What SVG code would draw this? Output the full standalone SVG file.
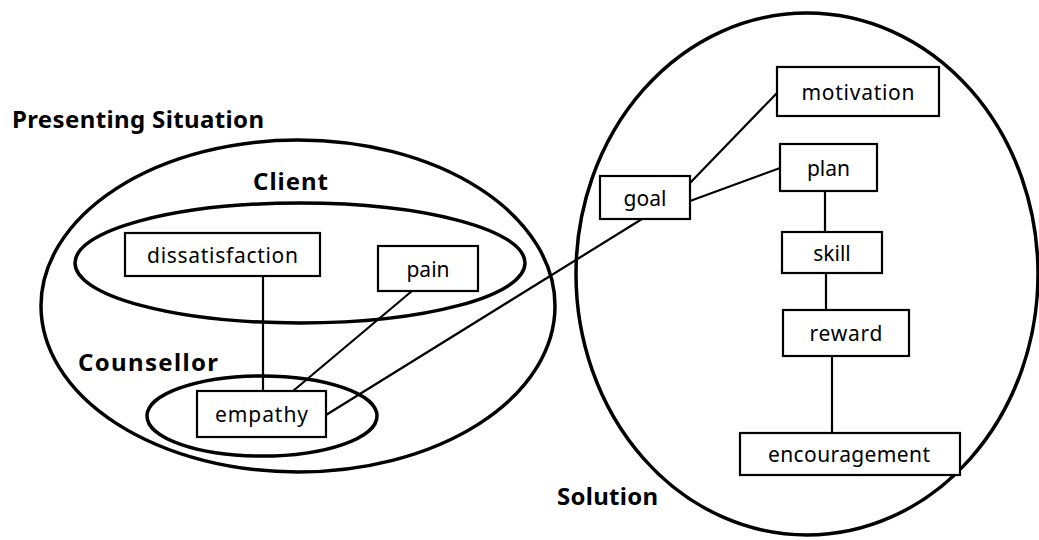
<svg xmlns="http://www.w3.org/2000/svg" width="1039" height="540" viewBox="0 0 1039 540">
<style>
.region{fill:none;stroke:#000;stroke-width:3.5}
.box{fill:#fff;stroke:#000;stroke-width:2.2}
.lbl{font-family:"Noto Sans","Open Sans","DejaVu Sans",sans-serif;font-size:21px;fill:#000;text-anchor:middle}
.title{font-family:"Noto Sans","Open Sans","DejaVu Sans",sans-serif;font-size:24px;font-weight:bold;fill:#000}
.conn line{stroke:#000;stroke-width:2.2}
</style>
<rect width="1039" height="540" fill="#fff"/>
<g id="regions">
<ellipse id="presenting-situation" class="region" cx="298" cy="306" rx="257" ry="166"/>
<ellipse id="client-region" class="region" cx="300" cy="263" rx="225" ry="60"/>
<ellipse id="counsellor-region" class="region" cx="262" cy="416" rx="115" ry="40"/>
<ellipse id="solution-region" class="region" cx="807" cy="274" rx="231" ry="261"/>
</g>
<g id="region-labels">
<text class="title" x="12" y="128" textLength="252">Presenting Situation</text>
<text class="title" x="253" y="190" textLength="75">Client</text>
<text class="title" x="78" y="371" textLength="140">Counsellor</text>
<text class="title" x="557" y="505" textLength="101">Solution</text>
</g>
<g id="connectors" class="conn">
<line x1="263" y1="277" x2="263" y2="391"/>
<line x1="412" y1="291" x2="293" y2="391"/>
<line x1="326" y1="415" x2="642" y2="219"/>
<line x1="690" y1="183" x2="777" y2="93"/>
<line x1="690" y1="201" x2="780" y2="168"/>
<line x1="825" y1="191" x2="825" y2="232"/>
<line x1="826" y1="273" x2="826" y2="310"/>
<line x1="832" y1="356" x2="832" y2="433"/>
</g>
<g id="dissatisfaction"><rect class="box" x="125" y="233" width="195" height="43"/><text class="lbl" x="222.5" y="262.5" textLength="151">dissatisfaction</text></g>
<g id="pain"><rect class="box" x="378" y="246" width="100" height="45"/><text class="lbl" x="428" y="276.5">pain</text></g>
<g id="empathy"><rect class="box" x="197" y="391" width="129" height="46"/><text class="lbl" x="261.5" y="422" textLength="93">empathy</text></g>
<g id="goal"><rect class="box" x="600" y="176" width="90" height="43"/><text class="lbl" x="645" y="205.5">goal</text></g>
<g id="motivation"><rect class="box" x="777" y="67" width="162" height="49"/><text class="lbl" x="858" y="99.5" textLength="113">motivation</text></g>
<g id="plan"><rect class="box" x="780" y="144" width="97" height="47"/><text class="lbl" x="828.5" y="175.5">plan</text></g>
<g id="skill"><rect class="box" x="782" y="232" width="100" height="41"/><text class="lbl" x="832" y="260.5">skill</text></g>
<g id="reward"><rect class="box" x="783" y="310" width="126" height="46"/><text class="lbl" x="846" y="341" textLength="73">reward</text></g>
<g id="encouragement"><rect class="box" x="740" y="433" width="220" height="42"/><text class="lbl" x="849" y="462" textLength="162">encouragement</text></g>
</svg>
